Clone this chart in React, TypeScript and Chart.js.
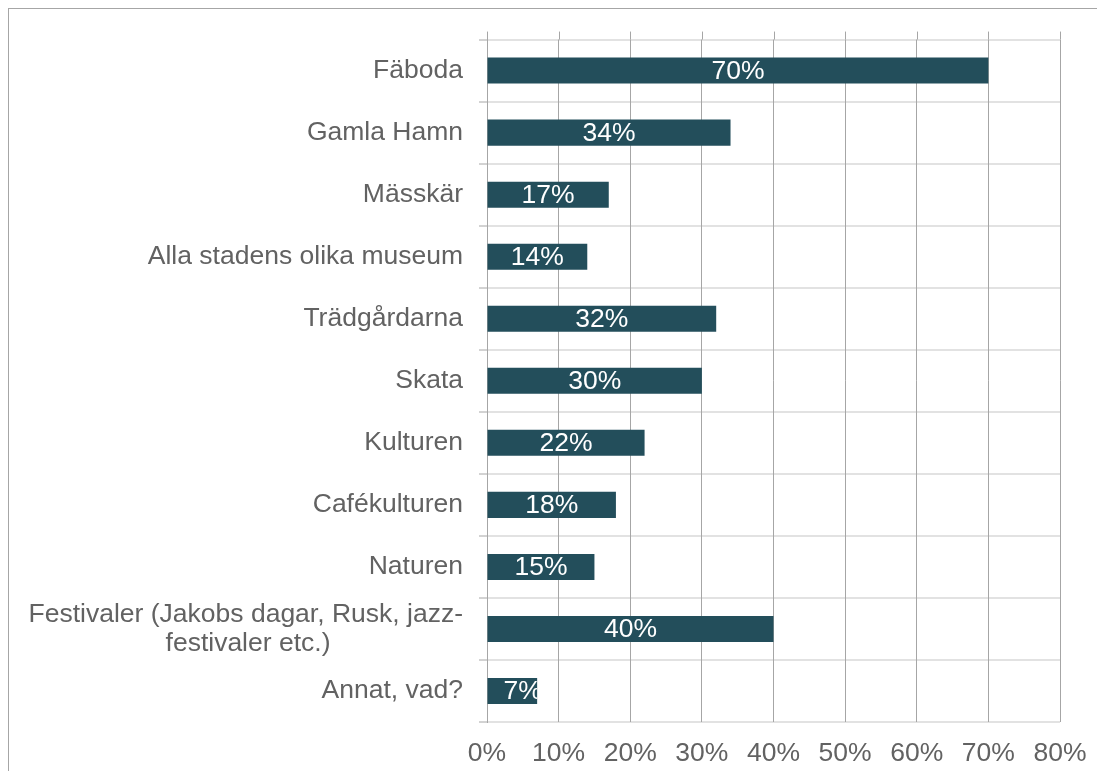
import React, { useEffect, useRef } from "react";
import { Chart, registerables } from "chart.js";

Chart.register(...registerables);

const categories: (string | string[])[] = [
  "Fäboda",
  "Gamla Hamn",
  "Mässkär",
  "Alla stadens olika museum",
  "Trädgårdarna",
  "Skata",
  "Kulturen",
  "Cafékulturen",
  "Naturen",
  ["Festivaler (Jakobs dagar, Rusk, jazz-", "festivaler etc.)"],
  "Annat, vad?",
];

const values: number[] = [70, 34, 17, 14, 32, 30, 22, 18, 15, 40, 7];

const xTicks: number[] = [0, 10, 20, 30, 40, 50, 60, 70, 80];

const FONT_FAMILY = "'Liberation Sans', Arial, Helvetica, sans-serif";
const FONT_SIZE = 26.5;
const TEXT_GRAY = "#626262";
const BAR_COLOR = "#234e5b";
const GRID_DARK = "#a6a6a6";
const GRID_LIGHT = "#e2e2e2";

function centerLines(lines: string[]): string[] {
  const c = document.createElement("canvas").getContext("2d");
  if (!c) return lines;
  c.font = `${FONT_SIZE}px ${FONT_FAMILY}`;
  const widths = lines.map((l) => c.measureText(l).width);
  const maxW = Math.max(...widths);
  const sp = c.measureText(" ").width;
  return lines.map(
    (l, i) => l + " ".repeat(Math.max(0, Math.round((maxW - widths[i]) / 2 / sp)))
  );
}

const gridExtendPlugin = {
  id: "gridExtend",
  beforeDatasetsDraw(chart: any) {
    const { ctx, chartArea, scales } = chart;
    const x = scales.x;
    ctx.save();
    ctx.strokeStyle = GRID_DARK;
    ctx.lineWidth = 1;
    xTicks.forEach((t) => {
      const px = Math.round(x.getPixelForValue(t)) + 0.5;
      ctx.beginPath();
      ctx.moveTo(px, chartArea.top - 8);
      ctx.lineTo(px, chartArea.top);
      ctx.stroke();
    });
    ctx.restore();
  },
};

const barLabelPlugin = {
  id: "barLabels",
  afterDatasetsDraw(chart: any) {
    const { ctx } = chart;
    const meta = chart.getDatasetMeta(0);
    ctx.save();
    ctx.font = `${FONT_SIZE}px ${FONT_FAMILY}`;
    ctx.fillStyle = "#ffffff";
    ctx.textAlign = "center";
    ctx.textBaseline = "middle";
    meta.data.forEach((bar: any, i: number) => {
      const { x, y, base, height } = bar.getProps(["x", "y", "base", "height"], true);
      const text = `${values[i]}%`;
      const w = ctx.measureText(text).width;
      const left = Math.min(base, x);
      const right = Math.max(base, x);
      let cx = (left + right) / 2;
      cx = Math.max(cx, left + 16 + w / 2);
      ctx.save();
      ctx.beginPath();
      ctx.rect(left, y - height / 2, right - left, height);
      ctx.clip();
      ctx.fillText(text, cx, y + 1);
      ctx.restore();
    });
    ctx.restore();
  },
};

export default function App() {
  const canvasRef = useRef<HTMLCanvasElement | null>(null);

  useEffect(() => {
    if (!canvasRef.current) return;
    const chart = new Chart(canvasRef.current, {
      type: "bar",
      data: {
        labels: categories as any,
        datasets: [
          {
            data: values,
            backgroundColor: BAR_COLOR,
            borderWidth: 0,
            categoryPercentage: 1,
            barPercentage: 0.42,
          },
        ],
      },
      plugins: [gridExtendPlugin, barLabelPlugin],
      options: {
        indexAxis: "y",
        animation: false,
        responsive: false,
        maintainAspectRatio: false,
        layout: { padding: { top: 29, right: 45, bottom: 0, left: 0 } },
        plugins: {
          legend: { display: false },
          tooltip: { enabled: false },
        },
        scales: {
          y: {
            type: "category",
            offset: true,
            afterFit(scale: any) {
              scale.width = 478;
            },
            grid: {
              offset: true,
              color: GRID_LIGHT,
              lineWidth: 2,
              drawTicks: true,
              tickLength: 8,
              tickColor: GRID_DARK,
              tickWidth: 1,
            },
            border: { display: true, color: GRID_DARK, width: 1 },
            ticks: {
              color: TEXT_GRAY,
              padding: 16,
              font: { family: FONT_FAMILY, size: FONT_SIZE, lineHeight: 1.1 },
              callback(this: any, value: any) {
                const lbl = categories[value as number];
                return Array.isArray(lbl) ? centerLines(lbl) : lbl;
              },
            },
          },
          x: {
            type: "linear",
            min: 0,
            max: 80,
            afterFit(scale: any) {
              scale.height = 49;
            },
            afterBuildTicks(scale: any) {
              scale.ticks = xTicks.map((v) => ({ value: v }));
            },
            grid: {
              color: GRID_DARK,
              lineWidth: 1,
              drawTicks: false,
            },
            border: { display: false },
            ticks: {
              color: TEXT_GRAY,
              padding: 16,
              maxRotation: 0,
              autoSkip: false,
              font: { family: FONT_FAMILY, size: FONT_SIZE },
              callback: (v: any) => `${v}%`,
            },
          },
        },
      } as any,
    });
    return () => chart.destroy();
  }, []);

  return (
    <div
      style={{
        width: 1096,
        height: 762,
        borderTop: "1px solid #a6a6a6",
        borderLeft: "1px solid #a6a6a6",
        overflow: "hidden",
        background: "#ffffff",
      }}
    >
      <canvas
        ref={canvasRef}
        width={1096}
        height={762}
        style={{ width: 1096, height: 762, display: "block" }}
      />
    </div>
  );
}
